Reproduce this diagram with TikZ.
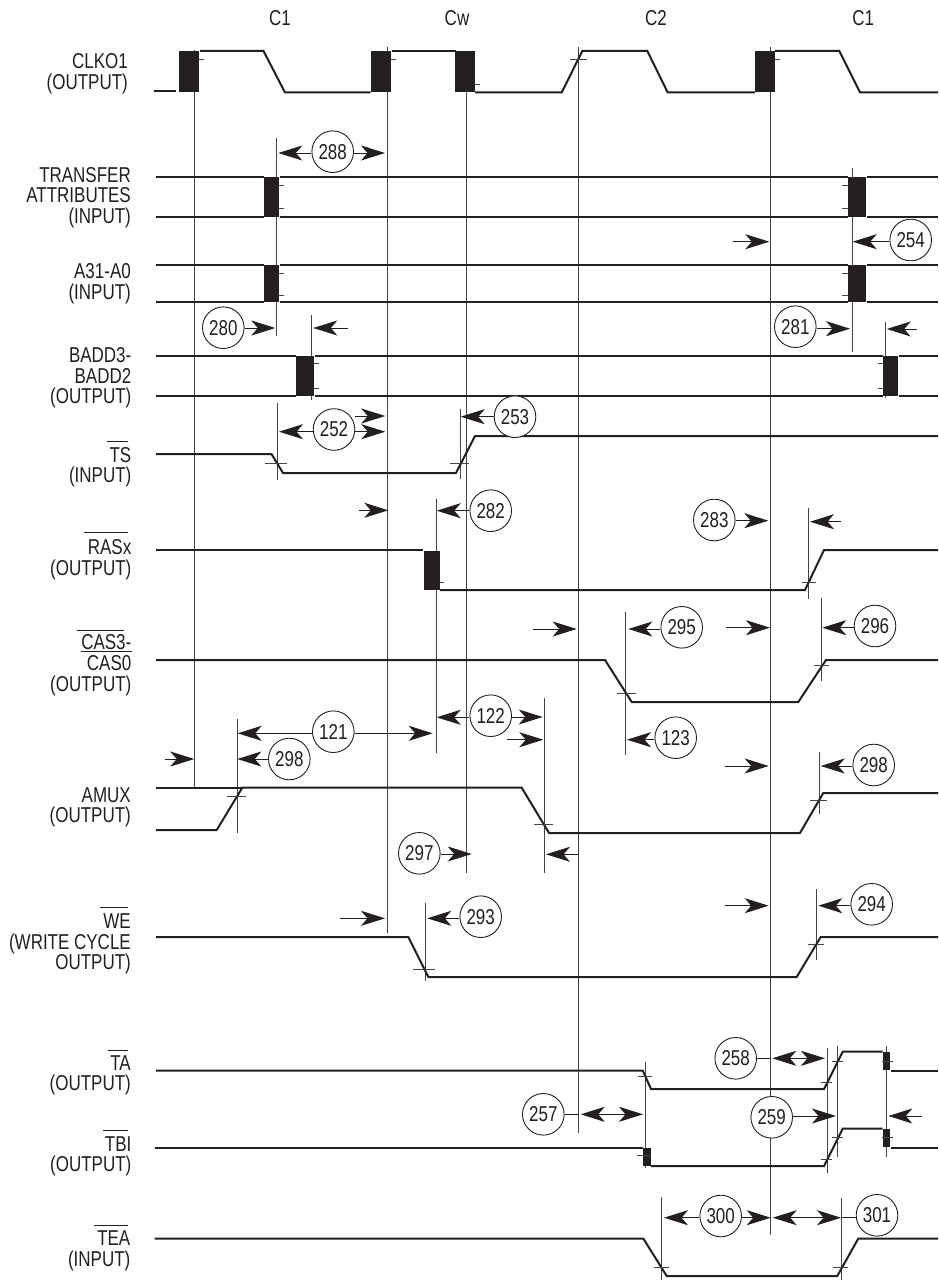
\documentclass[tikz,border=0pt]{standalone}
\usepackage{fontspec}
\setmainfont{Liberation Sans}[FakeStretch=0.79]
\usetikzlibrary{arrows.meta}
\lineskiplimit=-100pt
\definecolor{ink}{HTML}{231F20}
\definecolor{guide}{HTML}{444444}
\tikzset{
  sigline/.style={draw=ink,line width=2pt,line join=miter},
  guideline/.style={draw=guide,line width=0.9pt},
  tickline/.style={draw=guide,line width=0.8pt},
  blockbox/.style={fill=ink,draw=none},
  barline/.style={draw=ink,line width=0.8pt},
  dimline/.style={draw=ink,line width=0.9pt,-{Stealth[length=24pt,width=15pt,inset=6.5pt]}},
  dimboth/.style={draw=ink,line width=0.9pt,{Stealth[length=24pt,width=15pt,inset=6.5pt]}-{Stealth[length=24pt,width=15pt,inset=6.5pt]}},
  stubline/.style={draw=ink,line width=0.9pt},
  numcircle/.style={circle,draw=ink,fill=white,line width=0.9pt,minimum size=41.6pt,inner sep=0pt,text=ink,font=\fontsize{21.5}{20.7}\selectfont},
  siglabel/.style={anchor=north east,inner sep=0pt,align=right,text=ink,font=\fontsize{21.5}{20.7}\selectfont},
  headlabel/.style={anchor=base,inner sep=0pt,text=ink,font=\fontsize{21.5}{20.7}\selectfont},
}
% baseline of first line is #3: node top = baseline - cap height
\newcommand\lbl[4]{\node[siglabel] (#1) at (#2,#3-14.8) {#4};}
\newcommand\circnum[3]{\node[numcircle] (c#1) at (#2,#3) {#1};}
\newcommand\arR[4]{\coordinate (#1) at (#3,#4); \draw[dimline] (#2.east |- #1) -- (#1);}
\newcommand\arL[4]{\coordinate (#1) at (#3,#4); \draw[dimline] (#2.west |- #1) -- (#1);}
\newcommand\freear[5]{\coordinate (#1s) at (#2,#4); \coordinate (#1e) at (#3,#4); \draw[#5] (#1s) -- (#1e);}
\newcommand\tick[3]{\draw[tickline] (#1,#3) -- (#2,#3);}
\newcommand\vguide[3]{\draw[guideline] (#1,#2) -- (#1,#3);}
\newcommand\blockat[4]{\fill[blockbox] (#1,#2) rectangle (#3,#4);}
\begin{document}
\begin{tikzpicture}[x=1pt,y=-1pt]
\useasboundingbox (0,0) rectangle (938,1281);
\fill[white] (0,0) rectangle (938,1281);

% guides
\vguide{194.5}{50}{787}
\vguide{387}{47}{933}
\vguide{466}{92}{873}
\vguide{578.7}{47}{1133}
\vguide{770.7}{47}{1235}
\vguide{276}{138}{336}
\vguide{311}{315}{400}
\vguide{277.3}{403}{480}
\vguide{460}{409}{479}
\vguide{436}{499}{753}
\vguide{237}{719}{833}
\vguide{625.7}{612}{755}
\vguide{544.7}{698}{873}
\vguide{808}{508}{599}
\vguide{821}{598}{681}
\vguide{819}{752}{814}
\vguide{425}{903}{981}
\vguide{816}{889}{960}
\vguide{852}{168}{352}
\vguide{885}{322}{398}
\vguide{645}{1062}{1168}
\vguide{827}{1048}{1173}
\vguide{837.7}{1046}{1157}
\vguide{886.7}{1046}{1157}
\vguide{661.7}{1197}{1280}
\vguide{841.7}{1198}{1280}

% CLKO1
\draw[sigline] (154,91.5) -- (176,91.5);
\blockat{179}{51}{199}{92}
\draw[sigline] (200,51) -- (263.5,51) -- (285,92.5) -- (370.5,92.5);
\blockat{371}{51}{391}{92}
\draw[sigline] (392,51) -- (455.5,51);
\blockat{455}{51}{475}{92}
\draw[sigline] (475,92.5) -- (561.7,92.5) -- (582.3,51) -- (647.3,51) -- (667.7,92.5) -- (755,92.5);
\blockat{755}{51}{775}{92}
\draw[sigline] (775,51) -- (839.3,51) -- (860,92.5) -- (938,92.5);
\tick{199}{204}{59.5}
\tick{391}{396}{59.5}
\tick{475}{480}{84}
\tick{570}{586.7}{59.5}
\tick{775}{780}{59.5}

% TRANSFER ATTRIBUTES
\draw[sigline] (156,177) -- (264,177) (279.7,177) -- (848,177) (867,177) -- (938,177);
\draw[sigline] (156,217) -- (264,217) (279.7,217) -- (848,217) (867,217) -- (938,217);
\blockat{264}{177}{279}{217}
\blockat{848}{177}{866}{217}
\tick{279}{283.5}{185.5}
\tick{279}{283.5}{208}
\tick{842.3}{848}{185.5}
\tick{842.3}{848}{208}

% A31-A0
\draw[sigline] (156,265) -- (264,265) (279.7,265) -- (848,265) (867,265) -- (938,265);
\draw[sigline] (156,302) -- (264,302) (279.7,302) -- (848,302) (867,302) -- (938,302);
\blockat{264}{265}{279}{302}
\blockat{848}{265}{866}{302}
\tick{279}{283.5}{273.5}
\tick{279}{283.5}{295}
\tick{842.3}{848}{273.5}
\tick{842.3}{848}{295}

% BADD
\draw[sigline] (156,355.7) -- (295.7,355.7) (314.7,355.7) -- (882.7,355.7) (898.7,355.7) -- (938,355.7);
\draw[sigline] (156,395.5) -- (295.7,395.5) (314.7,395.5) -- (882.7,395.5) (898.7,395.5) -- (938,395.5);
\blockat{296}{355.7}{314}{395.5}
\blockat{883}{355.7}{898}{395.5}
\tick{314}{319}{363}
\tick{314}{319}{388}
\tick{878}{883}{363}
\tick{878}{883}{388}

% TS
\draw[sigline] (156,454) -- (271.5,454) -- (283,473) -- (456,473) -- (475,436) -- (938,436);
\tick{265}{287}{463.7}
\tick{450}{469}{463.7}

% RASx
\draw[sigline] (156,550) -- (423,550);
\blockat{424}{550.7}{439.5}{590}
\draw[sigline] (440,590) -- (805,590) -- (824,550) -- (938,550);
\tick{439.5}{444}{582.7}
\tick{801.7}{816}{582.7}

% CAS
\draw[sigline] (156,660) -- (605,660) -- (631.7,702) -- (798.3,702) -- (826,660) -- (938,660);
\tick{617.3}{636}{693.3}
\tick{814.3}{829}{665.7}

% AMUX
\draw[sigline] (156,830) -- (216.7,830) -- (242.3,787.7) -- (521.7,787.7) -- (549,833) -- (800,833) -- (823.3,793) -- (938,793);
\draw[sigline] (156,787.7) -- (242.3,787.7);
\tick{226.7}{246}{796}
\tick{534}{553}{824.3}
\tick{810}{827.3}{800}

% WE
\draw[sigline] (156,937) -- (408.3,937) -- (428.3,977) -- (796.7,977) -- (820.7,937) -- (938,937);
\tick{413.3}{435}{969}
\tick{808.3}{824.3}{944.3}

% TA
\draw[sigline] (156,1070.5) -- (642.7,1070.5) -- (651,1089) -- (824,1089) -- (842.7,1051.7) -- (882.7,1051.7);
\blockat{883}{1052}{890}{1070}
\draw[sigline] (890.7,1070.5) -- (938,1070.5);
\tick{638.3}{652.3}{1076}
\tick{820.7}{832}{1082.7}
\tick{832}{843.3}{1061}
\tick{881.7}{892.7}{1061}

% TBI
\draw[sigline] (154.5,1148) -- (642.7,1148);
\blockat{643}{1148}{650.7}{1166}
\draw[sigline] (651,1166) -- (824,1166) -- (842.7,1128.7) -- (882.7,1128.7);
\blockat{883}{1129}{890}{1147}
\draw[sigline] (890.7,1148) -- (938,1148);
\tick{637.3}{650}{1155}
\tick{820.7}{832}{1159}
\tick{832}{843.3}{1137.7}
\tick{881.7}{892.7}{1137.7}

% TEA
\draw[sigline] (154.5,1238.5) -- (643.3,1238.5) -- (666.7,1276) -- (837.3,1276) -- (858.3,1238.5) -- (938,1238.5);
\tick{654}{669}{1267.7}
\tick{833.3}{848.3}{1267.7}

% headers
\node[headlabel] (h1) at (280,26) {C1};
\node[headlabel] (h2) at (457,26) {Cw};
\node[headlabel] (h3) at (656,26) {C2};
\node[headlabel] (h4) at (863.3,26) {C1};

% signal labels
\lbl{l1}{128}{68.3}{CLKO1\\(OUTPUT)}
\lbl{l2}{131}{181.7}{TRANSFER\\ATTRIBUTES\\(INPUT)}
\lbl{l3}{131}{278.3}{A31-A0\\(INPUT)}
\lbl{l4}{131.5}{362}{BADD3-\\BADD2\\(OUTPUT)}
\lbl{l5}{131.5}{461.7}{TS\\(INPUT)}
\lbl{l6}{131.5}{554}{RASx\\(OUTPUT)}
\lbl{l7}{131.5}{649.3}{CAS3-\\CAS0\\(OUTPUT)}
\lbl{l8}{131}{802}{AMUX\\(OUTPUT)}
\lbl{l9}{131}{928.3}{WE\\(WRITE CYCLE\\OUTPUT)}
\lbl{l10}{131}{1070}{TA\\(OUTPUT)}
\lbl{l11}{131.5}{1151}{TBI\\(OUTPUT)}
\lbl{l12}{130.5}{1245.7}{TEA\\(INPUT)}
\draw[barline] (106.7,441) -- (128.3,441);
\draw[barline] (84,532.7) -- (128.3,532.7);
\draw[barline] (77.3,630) -- (124,630);
\draw[draw=ink,line width=1.2pt] (81,651.7) -- (132,651.7);
\draw[barline] (100,907) -- (127.7,907);
\draw[barline] (108.3,1050) -- (127.7,1050);
\draw[barline] (103.3,1130) -- (128.3,1130);
\draw[barline] (94,1225.7) -- (127.7,1225.7);

% numbered circles
\circnum{288}{332.7}{151.7}
\circnum{280}{223.3}{327.7}
\circnum{252}{334}{429.5}
\circnum{253}{515}{416.7}
\circnum{254}{910.7}{240}
\circnum{281}{795.3}{326.7}
\circnum{282}{490.7}{510.7}
\circnum{283}{714.3}{520}
\circnum{295}{681.7}{627.3}
\circnum{296}{875}{626}
\circnum{121}{333.3}{731.7}
\circnum{122}{490.7}{715.7}
\circnum{123}{675.7}{737.7}
\circnum{297}{419.3}{853.3}
\circnum{293}{480.7}{916.7}
\circnum{294}{871.7}{904.3}
\circnum{258}{735.7}{1058.3}
\circnum{257}{543.3}{1114.3}
\circnum{259}{771.7}{1117.3}
\circnum{300}{720.7}{1216}
\circnum{301}{877}{1215.3}
\node[numcircle] (c298a) at (289.3,759) {298};
\node[numcircle] (c298b) at (873.7,765) {298};

% dimension arrows
\arL{t288l}{c288}{278.3}{153}
\arR{t288r}{c288}{385}{153}
\arR{t280}{c280}{275.3}{328}
\freear{f1}{347.7}{313.3}{328}{dimline}
\arL{t252l}{c252}{279}{431.7}
\arR{t252r}{c252}{385.3}{431.7}
\freear{f2}{355}{385.3}{416}{dimline}
\arL{t253}{c253}{460.7}{416.7}
\arL{t254}{c254}{852.7}{241.7}
\freear{f3}{733.3}{769.3}{241.7}{dimline}
\arR{t281}{c281}{850}{328.7}
\freear{f4}{916.7}{886.7}{329}{dimline}
\freear{f5}{359.3}{388.3}{510.3}{dimline}
\arL{t282}{c282}{436.7}{510.7}
\arR{t283}{c283}{768.3}{520.7}
\freear{f6}{840.7}{810}{521.7}{dimline}
\freear{f7}{532.7}{576.7}{629}{dimline}
\arL{t295}{c295}{628.3}{629}
\freear{f8}{726}{770}{627.7}{dimline}
\arL{t296}{c296}{822.3}{627.7}
\arL{t121l}{c121}{237.7}{733.3}
\arR{t121r}{c121}{432.7}{733.3}
\arL{t298a}{c298a}{237.3}{759}
\freear{f9}{165}{194.3}{759}{dimline}
\arL{t122l}{c122}{436.7}{717.3}
\arR{t122r}{c122}{542.7}{717}
\freear{f10}{506.7}{543.3}{739.7}{dimline}
\arL{t123}{c123}{627}{739.7}
\freear{f11}{724.7}{768.7}{766}{dimline}
\arL{t298b}{c298b}{820.7}{766}
\arR{t297}{c297}{471.7}{854}
\freear{f12}{578.7}{546}{854.3}{dimline}
\freear{f13}{340.3}{385}{918.3}{dimline}
\arL{t293}{c293}{427.3}{918.3}
\freear{f14}{725}{768.7}{905.7}{dimline}
\arL{t294}{c294}{818.3}{905.7}
\coordinate (s258) at (770.7,1058.3);
\draw[stubline] (c258.east |- s258) -- (s258);
\freear{f15}{772.3}{825}{1058.3}{dimboth}
\coordinate (s257) at (578.7,1114.3);
\draw[stubline] (c257.east |- s257) -- (s257);
\freear{f16}{580.7}{643}{1114.3}{dimboth}
\arR{t259}{c259}{836}{1116}
\freear{f17}{921.7}{888.3}{1116}{dimline}
\arL{t300l}{c300}{664}{1217.7}
\arR{t300r}{c300}{770.7}{1217.7}
\freear{f18}{772.7}{841}{1217.7}{dimboth}
\coordinate (s301) at (841.7,1217.7);
\draw[stubline] (c301.west |- s301) -- (s301);
\end{tikzpicture}
\end{document}
